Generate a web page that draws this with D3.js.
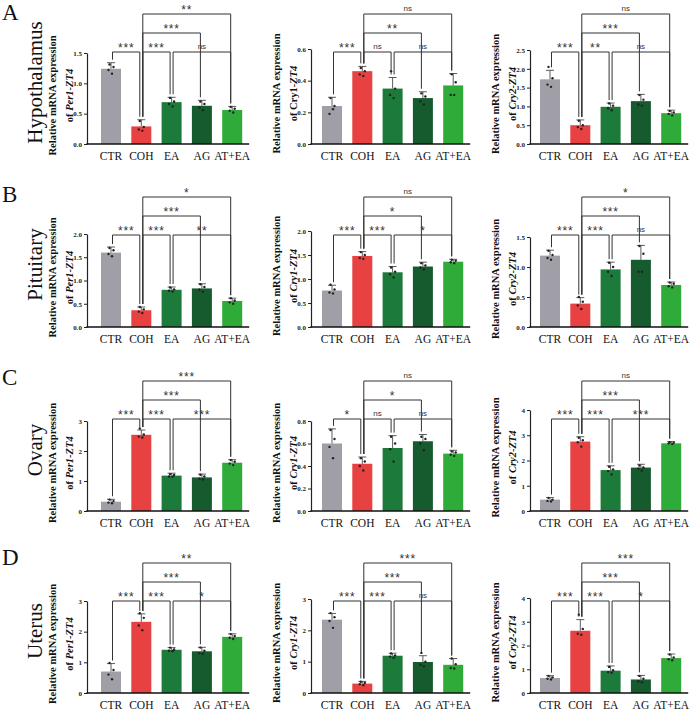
<!DOCTYPE html>
<html>
<head>
<meta charset="utf-8">
<script src="https://cdn.jsdelivr.net/npm/d3@7"></script>
<style>
  body { margin: 0; background: #fff; }
  svg { display: block; }
</style>
</head>
<body>
<script>
// ---- data ----
var groups = ["CTR", "COH", "EA", "AG", "AT+EA"];
var colors = ["#a09fa7", "#e84141", "#1c7b3b", "#165b2e", "#2fab39"];
var tissues = ["Hypothalamus", "Pituitary", "Ovary", "Uterus"];
var panelLetters = ["A", "B", "C", "D"];
var genes = ["Per1", "Cry1", "Cry2"];

// means[row][col][group]
var means = [
  [[1.24, 0.29, 0.69, 0.63, 0.56], [0.24, 0.46, 0.35, 0.29, 0.37], [1.72, 0.50, 0.99, 1.14, 0.82]],
  [[1.60, 0.36, 0.80, 0.83, 0.56], [0.76, 1.48, 1.14, 1.26, 1.36], [1.19, 0.39, 0.96, 1.12, 0.70]],
  [[0.31, 2.54, 1.18, 1.12, 1.61], [0.60, 0.42, 0.56, 0.62, 0.51], [0.45, 2.75, 1.62, 1.72, 2.68]],
  [[0.70, 2.32, 1.41, 1.36, 1.83], [2.34, 0.30, 1.19, 0.99, 0.90], [0.63, 2.62, 0.94, 0.57, 1.47]]
];
var sds = [
  [[0.10, 0.11, 0.08, 0.09, 0.06], [0.055, 0.03, 0.07, 0.04, 0.075], [0.24, 0.14, 0.10, 0.18, 0.08]],
  [[0.12, 0.07, 0.06, 0.10, 0.06], [0.11, 0.09, 0.12, 0.09, 0.05], [0.09, 0.10, 0.12, 0.24, 0.05]],
  [[0.08, 0.16, 0.08, 0.11, 0.10], [0.13, 0.06, 0.11, 0.06, 0.03], [0.08, 0.19, 0.17, 0.13, 0.07]],
  [[0.26, 0.26, 0.07, 0.13, 0.10], [0.20, 0.07, 0.08, 0.20, 0.20], [0.10, 0.47, 0.20, 0.17, 0.17]]
];
// individual samples
var points = [
  [
    [[1.31, 1.27, 1.22, 1.16], [0.38, 0.28, 0.24, 0.22], [0.76, 0.70, 0.66, 0.62], [0.70, 0.66, 0.60, 0.56], [0.61, 0.58, 0.55, 0.52]],
    [[0.29, 0.24, 0.19, 0.22], [0.48, 0.46, 0.44, 0.43], [0.46, 0.35, 0.31, 0.29], [0.32, 0.30, 0.27, 0.25], [0.44, 0.39, 0.31, 0.31]],
    [[2.05, 1.75, 1.58, 1.52], [0.62, 0.50, 0.45, 0.40], [1.08, 1.02, 0.95, 0.90], [1.30, 1.18, 1.05, 1.02], [0.88, 0.84, 0.80, 0.76]]
  ],
  [
    [[1.70, 1.65, 1.57, 1.52], [0.43, 0.38, 0.33, 0.30], [0.85, 0.81, 0.78, 0.76], [0.92, 0.86, 0.80, 0.76], [0.62, 0.57, 0.53, 0.50]],
    [[0.88, 0.78, 0.72, 0.70], [1.56, 1.50, 1.44, 1.42], [1.24, 1.15, 1.10, 1.03], [1.33, 1.28, 1.24, 1.20], [1.40, 1.38, 1.35, 1.33]],
    [[1.27, 1.20, 1.15, 1.12], [0.50, 0.42, 0.36, 0.30], [1.07, 1.00, 0.92, 0.85], [1.35, 1.22, 0.92, 0.92], [0.74, 0.72, 0.68, 0.66]]
  ],
  [
    [[0.38, 0.33, 0.28, 0.26], [2.75, 2.55, 2.48, 2.45], [1.23, 1.20, 1.15, 1.14], [1.21, 1.15, 1.08, 1.05], [1.70, 1.64, 1.58, 1.53]],
    [[0.72, 0.64, 0.57, 0.47], [0.47, 0.44, 0.40, 0.36], [0.66, 0.60, 0.55, 0.44], [0.66, 0.64, 0.60, 0.54], [0.53, 0.52, 0.50, 0.49]],
    [[0.52, 0.45, 0.40, 0.38], [2.90, 2.80, 2.72, 2.55], [1.75, 1.65, 1.58, 1.45], [1.80, 1.72, 1.68, 1.60], [2.72, 2.70, 2.68, 2.65]]
  ],
  [
    [[0.98, 0.75, 0.60, 0.45], [2.60, 2.45, 2.20, 2.05], [1.48, 1.42, 1.38, 1.36], [1.48, 1.38, 1.30, 1.28], [1.92, 1.86, 1.80, 1.76]],
    [[2.55, 2.42, 2.30, 2.08], [0.36, 0.32, 0.28, 0.25], [1.26, 1.20, 1.16, 1.12], [1.28, 1.00, 0.90, 0.85], [1.10, 0.92, 0.80, 0.78]],
    [[0.72, 0.66, 0.60, 0.57], [3.30, 2.70, 2.50, 2.45], [1.10, 0.96, 0.88, 0.85], [0.72, 0.60, 0.50, 0.45], [1.62, 1.50, 1.42, 1.38]]
  ]
];
// y tick labels: [max, step]
var yTicks = [
  [[1.5, 0.5], [0.6, 0.2], [2.5, 0.5]],
  [[2.0, 0.5], [2.0, 0.5], [1.5, 0.5]],
  [[3, 1], [0.8, 0.2], [4, 1]],
  [[3, 1], [3, 1], [4, 1]]
];
// comparisons: [from, to, level]
var comparisons = [[0, 1, 1], [1, 2, 1], [2, 4, 1], [1, 3, 2], [1, 4, 3]];
var sigLabels = [
  [["***", "***", "ns", "***", "**"], ["***", "ns", "ns", "**", "ns"], ["***", "**", "ns", "***", "ns"]],
  [["***", "***", "**", "***", "*"], ["***", "***", "*", "*", "ns"], ["***", "***", "ns", "***", "*"]],
  [["***", "***", "***", "***", "***"], ["*", "ns", "ns", "*", "ns"], ["***", "***", "***", "***", "ns"]],
  [["***", "***", "*", "***", "**"], ["***", "***", "ns", "***", "***"], ["***", "***", "*", "***", "***"]]
];

// ---- layout ----
var W = 694, H = 714;
var colAxisX = [87, 311, 530];
var colFirstBar = [111, 332, 550];
var barStep = 30.3, barW = 20;
var rowBottom = [144, 327, 511, 693];
var plotH = [[91, 95, 94], [93, 96, 90], [90, 90, 101], [92, 94, 95]];
var levelOffset = {1: 92, 2: 111, 3: 130};
var letterY = [20, 202, 385, 565];

var serif = "'Liberation Serif', 'Times New Roman', serif";
var sans = "'Liberation Sans', Arial, sans-serif";

var svg = d3.select("body").append("svg")
  .attr("width", W)
  .attr("height", H);

tissues.forEach(function(tissue, r) {
  var bottom = rowBottom[r];

  svg.append("text")
    .attr("x", 2).attr("y", letterY[r])
    .style("font-family", serif).style("font-size", "23px")
    .attr("fill", "#111")
    .text(panelLetters[r]);

  var midRow = bottom - plotH[r][0] / 2 - 16;
  svg.append("text")
    .attr("transform", "translate(42," + midRow + ") rotate(-90)")
    .attr("text-anchor", "middle")
    .style("font-family", serif).style("font-size", "21px")
    .attr("fill", "#111")
    .text(tissue);

  genes.forEach(function(gene, c) {
    var g = svg.append("g");
    var axisX = colAxisX[c];
    var x = d3.scalePoint().domain(groups)
      .range([colFirstBar[c], colFirstBar[c] + barStep * 4]);
    var tk = yTicks[r][c];
    var y = d3.scaleLinear().domain([0, tk[0]])
      .range([bottom, bottom - plotH[r][c]]);

    // bars
    g.selectAll("rect.bar")
      .data(groups)
      .enter().append("rect")
      .attr("x", function(d) { return x(d) - barW / 2; })
      .attr("y", function(d, i) { return y(means[r][c][i]); })
      .attr("width", barW)
      .attr("height", function(d, i) { return bottom - y(means[r][c][i]); })
      .attr("fill", function(d, i) { return colors[i]; });

    // error bars (upper only)
    groups.forEach(function(gr, i) {
      var top = y(means[r][c][i] + sds[r][c][i]);
      g.append("line")
        .attr("x1", x(gr)).attr("x2", x(gr))
        .attr("y1", y(means[r][c][i])).attr("y2", top)
        .attr("stroke", "#333").attr("stroke-width", 0.8);
      g.append("line")
        .attr("x1", x(gr) - 4).attr("x2", x(gr) + 4)
        .attr("y1", top).attr("y2", top)
        .attr("stroke", "#333").attr("stroke-width", 0.8);

      var pts = points[r][c][i];
      g.selectAll(null)
        .data(pts)
        .enter().append("circle")
        .attr("cx", function(d, k) { return x(gr) + [-1.5, 2.5, -2.5, 1][k % 4]; })
        .attr("cy", function(d) { return y(d); })
        .attr("r", 1.2)
        .attr("fill", "#222");
    });

    // axes
    var ticks = d3.range(0, tk[0] + tk[1] / 2, tk[1]);
    var yAxis = d3.axisLeft(y)
      .tickValues(ticks)
      .tickSize(3)
      .tickSizeOuter(0)
      .tickFormat(d3.format(tk[1] < 1 ? ".1f" : "d"));
    var ya = g.append("g")
      .attr("transform", "translate(" + axisX + ",0)")
      .call(yAxis);
    ya.select(".domain").attr("stroke", "#222").attr("stroke-width", 1.2);
    ya.selectAll(".tick line").attr("stroke", "#222").attr("stroke-width", 1);
    ya.selectAll(".tick text")
      .attr("x", -5)
      .style("font-family", serif).style("font-size", "7px")
      .style("font-weight", "bold").attr("fill", "#222");

    g.append("line")
      .attr("x1", axisX - 0.6).attr("x2", x("AT+EA") + 17)
      .attr("y1", bottom).attr("y2", bottom)
      .attr("stroke", "#111").attr("stroke-width", 1.6);

    g.selectAll("text.xl")
      .data(groups)
      .enter().append("text")
      .attr("x", function(d) { return x(d); })
      .attr("y", bottom + 16)
      .attr("text-anchor", "middle")
      .style("font-family", serif).style("font-size", "11.5px")
      .attr("fill", "#111")
      .text(function(d) { return d; });

    // y title
    var mid = bottom - plotH[r][c] / 2 - 3;
    g.append("text")
      .attr("transform", "translate(" + (axisX - 31) + "," + mid + ") rotate(-90)")
      .attr("text-anchor", "middle")
      .style("font-family", serif).style("font-size", "10.5px")
      .style("font-weight", "bold").attr("fill", "#111")
      .text("Relative mRNA expression");
    var t2 = g.append("text")
      .attr("transform", "translate(" + (axisX - 14) + "," + mid + ") rotate(-90)")
      .attr("text-anchor", "middle")
      .style("font-family", serif).style("font-size", "10.5px")
      .style("font-weight", "bold").attr("fill", "#111");
    t2.append("tspan").text("of ");
    t2.append("tspan")
      .style("font-style", (r === 0 && c === 1) ? "normal" : "italic")
      .text(gene);
    t2.append("tspan").style("font-style", "italic").text("-ZT4");

    // significance brackets
    comparisons.forEach(function(cmp, k) {
      var a = cmp[0], b = cmp[1], lvl = cmp[2];
      var ly = bottom - levelOffset[lvl];
      var xa = x(groups[a]) + 1.5, xb = x(groups[b]) - 1.5;
      var ya0 = y(means[r][c][a] + sds[r][c][a]) - 3;
      var yb0 = y(means[r][c][b] + sds[r][c][b]) - 3;
      g.append("path")
        .attr("d", "M" + xa + "," + ya0 + "V" + ly + "H" + xb + "V" + yb0)
        .attr("fill", "none")
        .attr("stroke", "#333").attr("stroke-width", 1);
      var lab = sigLabels[r][c][k];
      g.append("text")
        .attr("x", (xa + xb) / 2)
        .attr("y", lab === "ns" ? ly - 3 : ly)
        .attr("text-anchor", "middle")
        .style("font-family", sans)
        .style("font-size", lab === "ns" ? "8px" : "12px")
        .style("letter-spacing", lab === "ns" ? "0px" : "0.8px")
        .attr("fill", "#333")
        .text(lab);
    });
  });
});
</script>
</body>
</html>
